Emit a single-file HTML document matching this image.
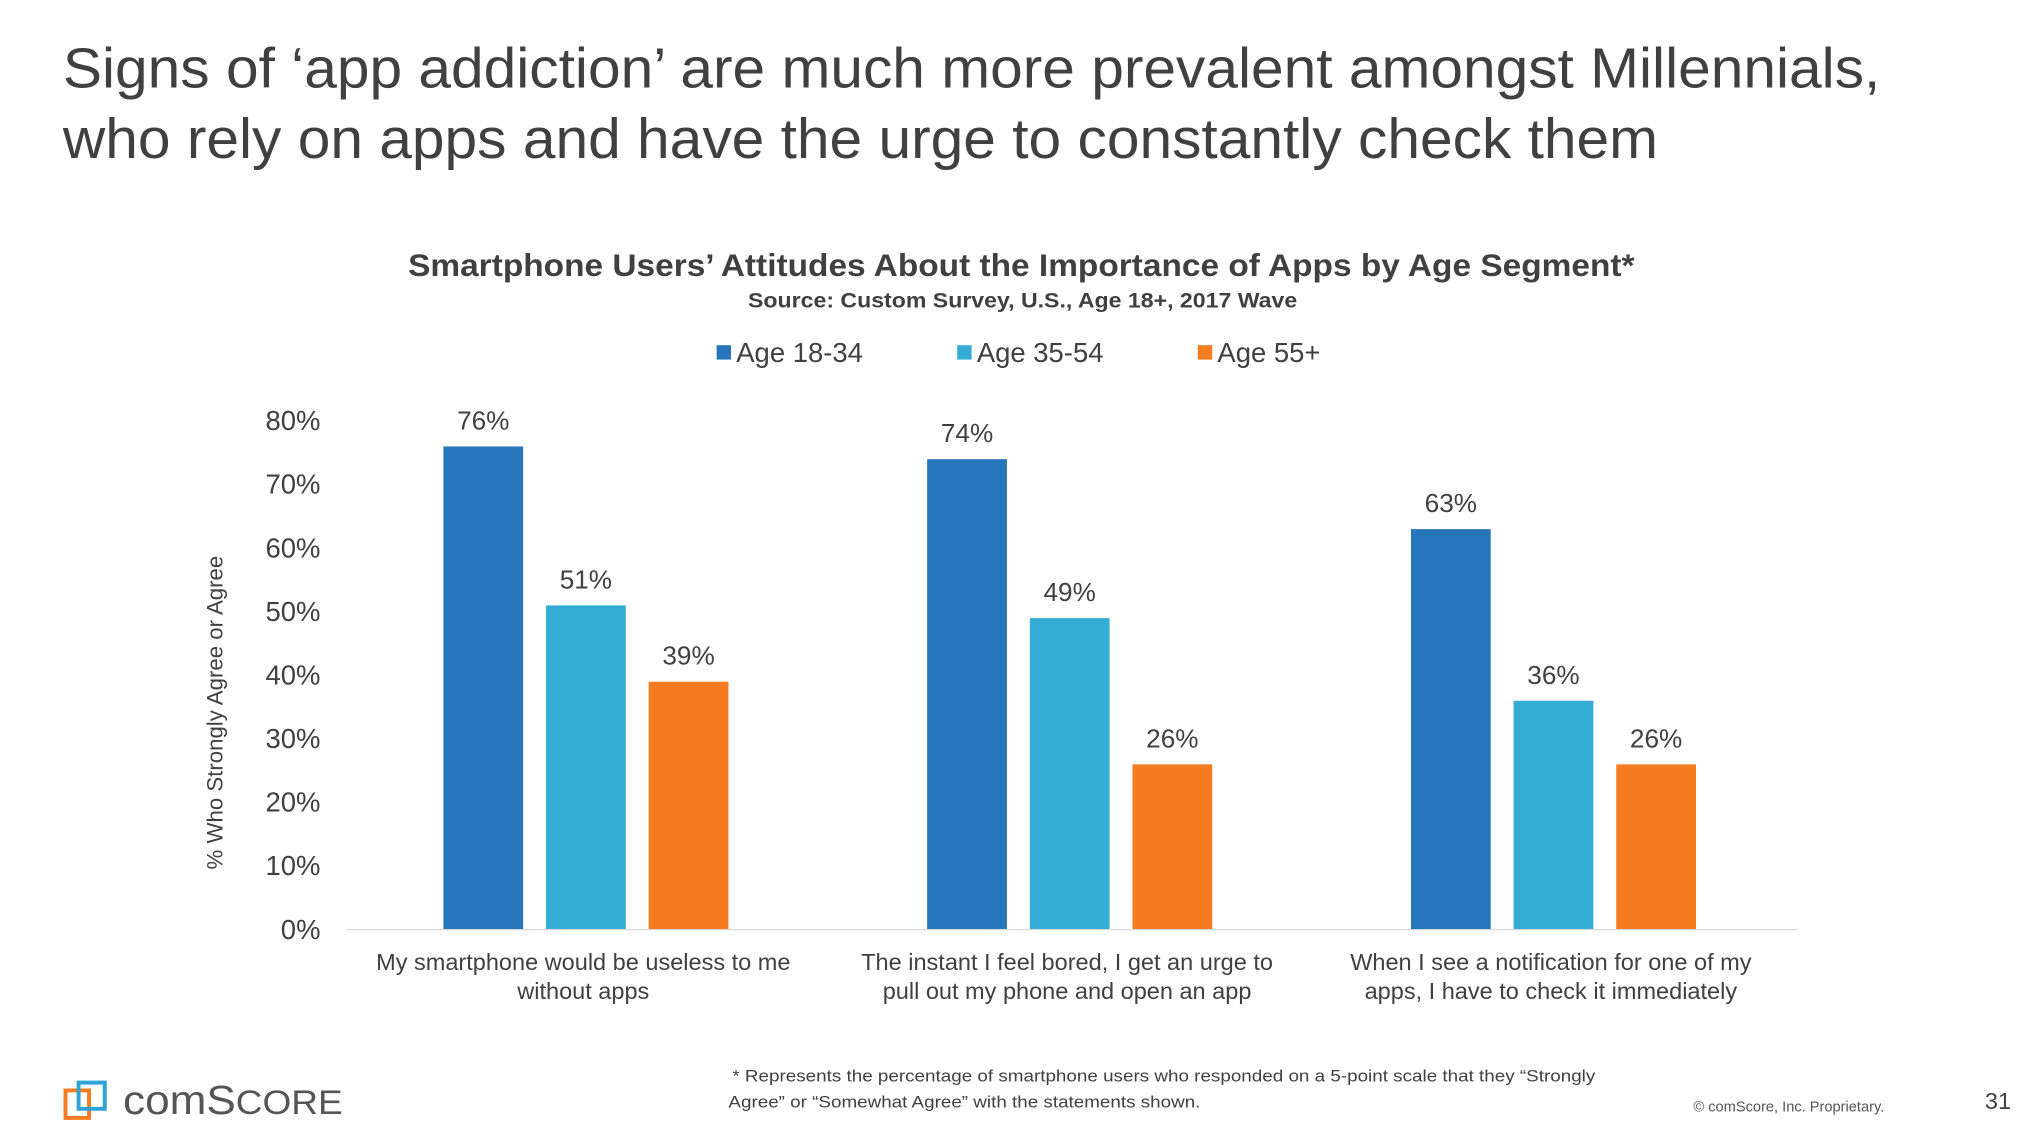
<!DOCTYPE html>
<html><head><meta charset="utf-8"><style>
html,body{margin:0;padding:0;background:#fff;width:2040px;height:1148px;overflow:hidden}
svg{display:block;font-family:"Liberation Sans",Arial,sans-serif}
</style></head><body>
<svg width="2040" height="1148" viewBox="0 0 1560 878">
<g fill="#404040" font-size="43">
<text x="48" y="67" textLength="1390" lengthAdjust="spacingAndGlyphs">Signs of ‘app addiction’ are much more prevalent amongst Millennials,</text>
<text x="48" y="121" textLength="1220" lengthAdjust="spacingAndGlyphs">who rely on apps and have the urge to constantly check them</text>
</g>
<text x="312" y="211" textLength="938" lengthAdjust="spacingAndGlyphs" font-weight="bold" font-size="24" fill="#404040">Smartphone Users’ Attitudes About the Importance of Apps by Age Segment*</text>
<text x="572" y="235" textLength="420" lengthAdjust="spacingAndGlyphs" font-weight="bold" font-size="16" fill="#404040">Source: Custom Survey, U.S., Age 18+, 2017 Wave</text>
<g id="legend"></g>
<text transform="translate(170,545) rotate(-90)" text-anchor="middle" font-size="17" fill="#404040">% Who Strongly Agree or Agree</text>
<g id="yaxis"></g>
<g id="bars"></g>
<g id="xaxis"></g>
<g font-size="13" fill="#404040">
<text x="560" y="827" textLength="660" lengthAdjust="spacingAndGlyphs">* Represents the percentage of smartphone users who responded on a 5-point scale that they “Strongly</text>
<text x="557" y="847" textLength="361" lengthAdjust="spacingAndGlyphs">Agree” or “Somewhat Agree” with the statements shown.</text>
</g>
<text x="1295" y="850" textLength="146" lengthAdjust="spacingAndGlyphs" font-size="11" fill="#555">© comScore, Inc. Proprietary.</text>
<text x="1518" y="848" font-size="18" fill="#404040">31</text>
<g>
<path d="M50 834 L50 855 L68 855 L68 834 Z" fill="none" stroke="#f47b20" stroke-width="3"/>
<path d="M60 828 L80 828 L80 848 L60 848 Z" fill="none" stroke="#2ea3d6" stroke-width="3"/>
<text x="94" y="852" font-size="31" fill="#555" textLength="168" lengthAdjust="spacingAndGlyphs">comS<tspan font-size="26">CORE</tspan></text>
</g>
</svg>
<script>
const categories=[["My smartphone would be useless to me","without apps"],["The instant I feel bored, I get an urge to","pull out my phone and open an app"],["When I see a notification for one of my","apps, I have to check it immediately"]];
const seriesNames=["Age 18-34","Age 35-54","Age 55+"];
const age1834=[76,74,63];
const age3554=[51,49,36];
const age55=[39,26,26];
const yTicks=[0,10,20,30,40,50,60,70,80];
const colors=["#2775ba","#34acd6","#f47b20"];
const NS="http://www.w3.org/2000/svg";
const x0=265,x1=1375,yBase=711,yTop=322,yMax=80;
const y=v=>yBase-(v/yMax)*(yBase-yTop);
const catW=(x1-x0)/categories.length;
const cx=i=>x0+catW*(i+0.5);
function mk(tag,attrs,parent,txt){const e=document.createElementNS(NS,tag);for(const k in attrs)e.setAttribute(k,attrs[k]);if(txt!=null)e.textContent=txt;parent.appendChild(e);return e;}
const yg=document.getElementById('yaxis');
yTicks.forEach(t=>{const e=mk('text',{x:245,y:y(t)+7,'text-anchor':'end','font-size':21,fill:'#404040'},yg,t+'%');

});
const bg=document.getElementById('bars');
const series=[age1834,age3554,age55];
const barW=61,step=78.5;
series.forEach((s,si)=>{s.forEach((v,ci)=>{
const bx=cx(ci)+(si-1)*step-barW/2-2;
const r=mk('rect',{x:bx,y:y(v),width:barW,height:yBase-y(v),fill:colors[si]},bg);


const l=mk('text',{x:bx+barW/2,y:y(v)-13,'text-anchor':'middle','font-size':20,fill:'#404040'},bg,v+'%');


});});
const xg=document.getElementById('xaxis');
const ax=mk('line',{x1:x0,x2:x1,y1:yBase,y2:yBase,stroke:'#d9d9d9','stroke-width':1},xg);


categories.forEach((c,i)=>{c.forEach((ln,j)=>{
const t=mk('text',{x:cx(i)-4,y:742+j*22,'text-anchor':'middle','font-size':18,fill:'#404040'},xg,ln);

});});
const lg=document.getElementById('legend');
const lx=[548,732,916];
seriesNames.forEach((n,i)=>{
const r=mk('rect',{x:lx[i],y:264,width:11,height:11,fill:colors[i]},lg);


const t=mk('text',{x:lx[i]+15,y:277,'font-size':21,fill:'#404040'},lg,n);

});
</script>
</body></html>
